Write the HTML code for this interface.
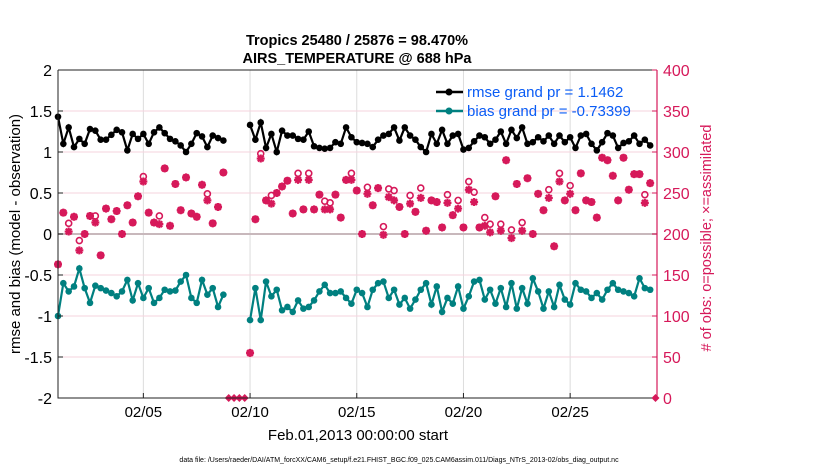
<!DOCTYPE html>
<html><head><meta charset="utf-8"><style>
body{margin:0;background:#fff;}
svg{display:block;font-family:"Liberation Sans",sans-serif;}
</style></head><body>
<svg id="chart" width="830" height="470" viewBox="0 0 830 470">
<rect width="830" height="470" fill="#fff"/>
<g id="grid"></g>
<g id="marks"></g>
<g id="axes"></g>
<text x="357" y="45" text-anchor="middle" font-size="14.5" font-weight="bold">Tropics 25480 / 25876 = 98.470%</text>
<text x="357" y="63" text-anchor="middle" font-size="14.5" font-weight="bold">AIRS_TEMPERATURE @ 688 hPa</text>
<text transform="translate(20,234) rotate(-90)" text-anchor="middle" font-size="15">rmse and bias (model - observation)</text>
<text transform="translate(711,238) rotate(-90)" text-anchor="middle" font-size="14.5" fill="#d6195a"># of obs: o=possible; ×=assimilated</text>
<text x="358" y="440" text-anchor="middle" font-size="15">Feb.01,2013 00:00:00 start</text>
<text x="399" y="462" text-anchor="middle" font-size="7">data file: /Users/raeder/DAI/ATM_forcXX/CAM6_setup/f.e21.FHIST_BGC.f09_025.CAM6assim.011/Diags_NTrS_2013-02/obs_diag_output.nc</text>
<g>
<line x1="436" y1="92" x2="463" y2="92" stroke="#000" stroke-width="2.5"/>
<circle cx="449" cy="92" r="3.5" fill="#000"/>
<text x="467" y="97" font-size="15" fill="#0a5cf5">rmse grand pr = 1.1462</text>
<line x1="436" y1="111" x2="463" y2="111" stroke="#008080" stroke-width="2.5"/>
<circle cx="449" cy="111" r="3.5" fill="#008080"/>
<text x="467" y="116" font-size="15" fill="#0a5cf5">bias grand pr = -0.73399</text>
</g>
</svg>
<script>
const rmse=[1.43,1.1,1.3,1.06,1.16,1.1,1.28,1.26,1.15,1.15,1.21,1.27,1.24,1.02,1.22,1.16,1.22,1.1,1.24,1.3,1.23,1.16,1.13,1.08,1.0,1.1,1.23,1.19,1.06,1.2,1.17,1.14,
null,null,null,null,
1.33,1.15,1.36,1.05,1.22,1.0,1.26,1.2,1.2,1.16,1.15,1.25,1.07,1.05,1.04,1.05,1.12,1.1,1.3,1.18,
1.12,1.11,1.1,1.06,1.15,1.2,1.22,1.3,1.14,1.3,1.2,1.15,1.06,1.0,1.22,1.1,1.27,1.1,1.2,1.22,1.03,1.05,1.13,1.2,1.18,1.1,1.15,1.25,1.1,1.27,1.17,1.3,1.1,1.12,1.18,1.13,1.2,1.1,1.2,1.12,1.18,1.05,1.2,1.22,1.1,1.02,1.12,1.23,1.2,1.05,1.11,1.13,1.2,1.1,1.15,1.08,
null];
const bias=[-1.0,-0.6,-0.7,-0.64,-0.42,-0.66,-0.84,-0.63,-0.66,-0.69,-0.72,-0.76,-0.7,-0.56,-0.81,-0.6,-0.78,-0.66,-0.84,-0.78,-0.68,-0.7,-0.69,-0.58,-0.5,-0.78,-0.84,-0.56,-0.74,-0.66,-0.89,-0.74,
null,null,null,null,
-1.05,-0.66,-1.05,-0.58,-0.76,-0.68,-0.93,-0.89,-0.95,-0.81,-0.91,-0.89,-0.81,-0.7,-0.62,-0.72,-0.72,-0.7,-0.78,-0.85,
-0.68,-0.72,-0.89,-0.68,-0.6,-0.58,-0.78,-0.68,-0.86,-0.78,-0.91,-0.8,-0.68,-0.6,-0.86,-0.64,-0.95,-0.78,-0.85,-0.64,-0.91,-0.76,-0.58,-0.56,-0.8,-0.68,-0.85,-0.66,-0.89,-0.6,-0.91,-0.66,-0.85,-0.54,-0.7,-0.91,-0.7,-0.89,-0.62,-0.8,-0.86,-0.6,-0.68,-0.7,-0.78,-0.72,-0.8,-0.68,-0.6,-0.68,-0.7,-0.72,-0.76,-0.54,-0.66,-0.68,
null];
const assim=[163,226,203,221,180,200,222,214,174,231,218,228,200,235,214,246,264,226,214,212,280,210,261,229,269,225,221,260,241,213,233,275,
0,0,0,0,
55,218,292,241,237,250,258,265,225,266,230,266,230,248,230,230,248,220,266,266,
253,200,249,235,256,199,245,241,233,200,237,227,244,204,241,239,208,238,223,231,208,254,239,208,210,202,246,204,290,195,261,204,268,200,249,229,244,185,264,241,249,229,274,241,239,220,293,290,271,241,293,254,273,273,238,262,
0];
const possDelta=[0,0,10,0,12,0,0,8,0,0,0,0,0,0,0,0,6,0,0,10,0,0,0,0,0,0,0,0,8,0,0,0,
0,0,0,0,
0,0,6,0,10,0,0,0,0,8,0,8,0,0,10,8,0,0,0,8,
0,0,8,0,0,10,10,12,0,0,10,0,12,0,0,0,0,10,0,10,0,10,12,0,10,10,0,8,0,10,0,10,0,0,0,0,10,0,10,0,10,0,0,0,0,0,0,0,0,0,0,0,0,0,10,0,
0];
const xTickDays=[4,9,14,19,24];
const xTickLabels=["02/05","02/10","02/15","02/20","02/25"];
const yTicks=[-2,-1.5,-1,-0.5,0,0.5,1,1.5,2];
const yTickLabels=["-2","-1.5","-1","-0.5","0","0.5","1","1.5","2"];
const rTicks=[0,50,100,150,200,250,300,350,400];

const L=58,R=657,T=70,B=398;
const xS=d=>L+(d/28.07)*(R-L);
const yS=v=>B-(v+2)/4*(B-T);
const rS=v=>B-v/400*(B-T);
const NS="http://www.w3.org/2000/svg";
function mk(tag,attrs,parent){const e=document.createElementNS(NS,tag);for(const k in attrs)e.setAttribute(k,attrs[k]);parent.appendChild(e);return e;}
const grid=document.getElementById('grid'),marks=document.getElementById('marks'),axes=document.getElementById('axes');
const RED="#d6195a",TEAL="#008080";
xTickDays.forEach(d=>{const l=mk('line',{x1:xS(d),x2:xS(d),y1:T,y2:B,stroke:'#dcdcdc','stroke-width':1},grid);

});
rTicks.forEach(v=>{const l=mk('line',{x1:L,x2:R,y1:rS(v),y2:rS(v),stroke:'#f6d3de','stroke-width':1},grid);

});
const zl=mk('line',{x1:L,x2:R,y1:yS(0),y2:yS(0),stroke:'#c8b8bc','stroke-width':2},grid);


assim.forEach((v,i)=>{const t=i*0.25,x=xS(t);
if(v===0){const y=rS(0);const d=mk('path',{d:`M${x-4},${y}L${x},${y-4}L${x+4},${y}L${x},${y+4}Z`,fill:RED},marks);

return;}
const pv=v+possDelta[i];const c=mk('circle',{cx:x,cy:rS(pv),r:3,fill:'none',stroke:RED,'stroke-width':1.6},marks);


const y=rS(v),s=4,a=2.9;
const p=mk('path',{d:`M${x-s},${y}H${x+s}M${x},${y-s}V${y+s}M${x-a},${y-a}L${x+a},${y+a}M${x-a},${y+a}L${x+a},${y-a}`,stroke:RED,'stroke-width':2.2,fill:'none'},marks);

});
function series(arr,color,name){let d='';let pen=false;
arr.forEach((v,i)=>{if(v===null){pen=false;return;}d+=(pen?'L':'M')+xS(i*0.25)+','+yS(v);pen=true;});
const p=mk('path',{d:d,stroke:color,'stroke-width':2.2,fill:'none'},marks);


arr.forEach((v,i)=>{if(v===null)return;const c=mk('circle',{cx:xS(i*0.25),cy:yS(v),r:3.3,fill:color},marks);

});}
series(bias,TEAL,'bias');
series(rmse,'#000','rmse');
const ax=mk('path',{d:`M${L},${T}V${B}H${R}M${L},${T}H${R}`,stroke:'#222',fill:'none','stroke-width':1},axes);


const ra=mk('line',{x1:R,x2:R,y1:T,y2:B,stroke:RED,'stroke-width':1.2},axes);


yTicks.forEach((v,i)=>{const y=yS(v);
const tk=mk('line',{x1:L,x2:L+5,y1:y,y2:y,stroke:'#222'},axes);


const t=mk('text',{x:L-6,y:y+6,'text-anchor':'end','font-size':16},axes);t.textContent=yTickLabels[i];

});
rTicks.forEach(v=>{const y=rS(v);
const tk=mk('line',{x1:R-5,x2:R,y1:y,y2:y,stroke:RED},axes);


const t=mk('text',{x:R+6,y:y+6,'font-size':16,fill:RED},axes);t.textContent=v;

});
xTickDays.forEach((d,i)=>{const x=xS(d);
const tk=mk('line',{x1:x,x2:x,y1:B-5,y2:B,stroke:'#222'},axes);


const t=mk('text',{x:x,y:417,'text-anchor':'middle','font-size':15},axes);t.textContent=xTickLabels[i];

});
</script>
</body></html>
